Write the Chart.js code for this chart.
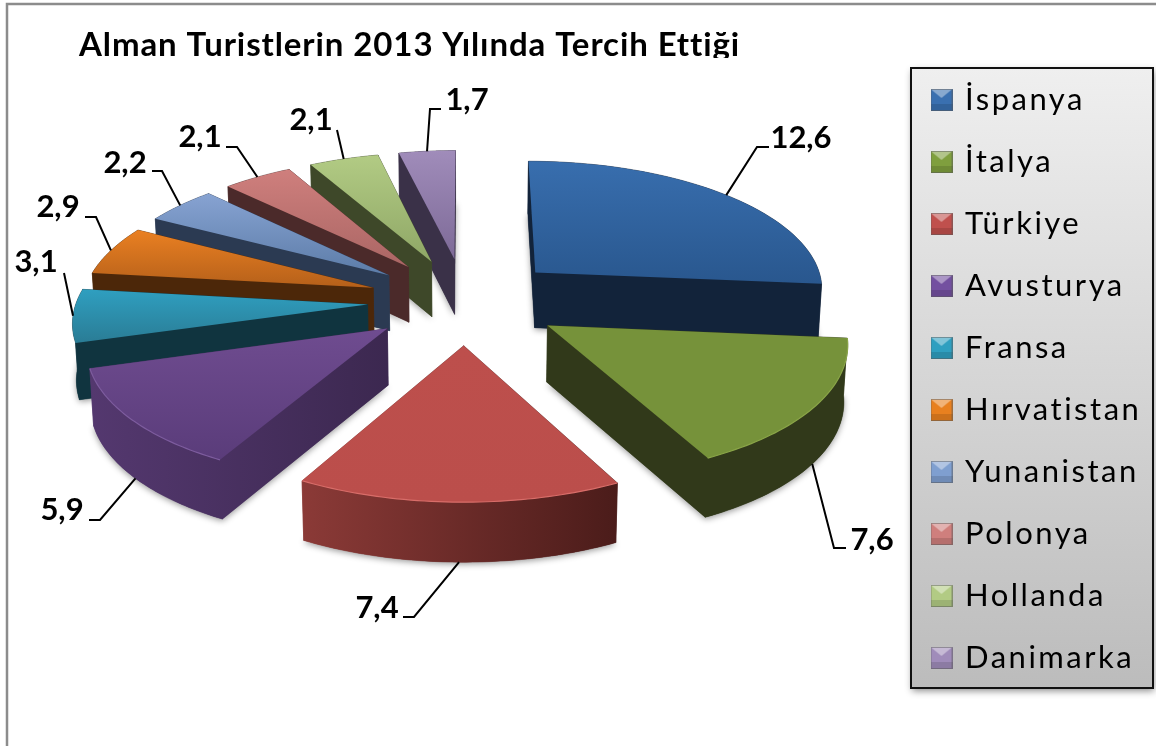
<!DOCTYPE html>
<html><head><meta charset="utf-8">
<style>html,body{margin:0;padding:0;background:#fff}canvas{display:block}</style>
<script src="https://cdn.jsdelivr.net/npm/chart.js@4"></script>
</head><body><canvas id="c" width="1156" height="746"></canvas>
<script>
const titleText = "Alman Turistlerin 2013 Yılında Tercih Ettiği";
const categories = ["İspanya","İtalya","Türkiye","Avusturya","Fransa","Hırvatistan","Yunanistan","Polonya","Hollanda","Danimarka"];
const values = [12.6,7.6,7.4,5.9,3.1,2.9,2.2,2.1,2.1,1.7];
const baseColors = ["#3a70b0","#7f9f3e","#c0504d","#7350a0","#2f9fc0","#e8801f","#7f9fd0","#cf7f7d","#b2cb84","#a08cba"];
const topStart = ["#386eae","#76923a","#bd4f4c","#6f4c90","#2f9fc0","#ea8022","#87a3d2","#cf7f7d","#b2cb84","#a08cba"];
const topEnd   = ["#29578e","#76923a","#bb4e4b","#5a3c7a","#2a7c95","#b5601a","#5c7ca8","#aa6664","#8fa766","#7d6a97"];
const wallLeft  = ["#12233a","#31391a","#8b3a37","#54386f","#10343f","#4c2709","#2b3a52","#4b2a2a","#3e4829","#3a3148"];
const wallRight = ["#12233a","#31391a","#4b1c1a","#3c2850","#10343f","#4c2709","#2b3a52","#4b2a2a","#3e4829","#3a3148"];
const rimLight  = [null,"#8aa548","#d86d69","#7d5c9e",null,null,null,null,null,null];
// leader layout: [elbowX, elbowY, stubX, textX, textY]
const leaderLayout = [
 [757,147,769,801,138],[834,548,846,872,540],[414,617,403,377,608],[100,520,89,62,510],
 [64,273,64,36,262],[96,217,85,58,207],[162,171,152,125,163],[237,147,226,200,137],
 [337,130,337,311,120],[430,109,441,467,100]];

const A=291, B=129, PX=0.11, PY=0.1085, EXPLODE=0.335, DEPTH=56;
function project(cx,cy,U,V,down){
  const sx=1/(1-PX*V), sy=1/(1-PY*V);
  return {x:cx+A*U*sx*(down?0.99:1), y:cy+B*V*sy+(down?DEPTH+3*V:0)};
}
function poly(ctx,pts){ctx.beginPath();pts.forEach((p,i)=>i?ctx.lineTo(p.x,p.y):ctx.moveTo(p.x,p.y));ctx.closePath();}
function sliceGeom(el){
  const a0=el.startAngle+Math.PI/2, a1=el.endAngle+Math.PI/2, m=(a0+a1)/2;
  const ou=EXPLODE*Math.sin(m), ov=-EXPLODE*Math.cos(m);
  const cx=el.x, cy=el.y;
  const rim=[],rimB=[]; const n=48;
  for(let k=0;k<=n;k++){const t=a0+(a1-a0)*k/n,u=ou+Math.sin(t),v=ov-Math.cos(t);
    rim.push(project(cx,cy,u,v,false));rimB.push(project(cx,cy,u,v,true));}
  const apex=project(cx,cy,ou,ov,false), apexB=project(cx,cy,ou,ov,true);
  const mu=ou+Math.sin(m), mv=ov-Math.cos(m);
  return {rim,rimB,apex,apexB,midTop:project(cx,cy,mu,mv,false),midBottom:project(cx,cy,mu,mv,true),front:Math.cos(m)<-0.4};
}
function marker(color){
  const c=document.createElement('canvas');c.width=22;c.height=22;const x=c.getContext('2d');
  x.fillStyle=color;x.fillRect(0,0,22,22);
  x.fillStyle='rgba(255,255,255,.4)';x.beginPath();x.moveTo(0,0);x.lineTo(22,0);x.lineTo(11,9);x.closePath();x.fill();
  x.fillStyle='rgba(0,0,0,.12)';x.fillRect(0,15,22,7);
  x.strokeStyle='rgba(90,90,90,.5)';x.lineWidth=1;x.strokeRect(.5,.5,21,21);
  return c;
}
const markers = baseColors.map(marker);

const pie3d={
  id:'pie3d',
  afterLayout(chart){
    const t=chart.titleBlock; t.left=79; t.right=1000; t.top=26; t.bottom=66;
    if(!t._wrapped){const d=t.draw.bind(t);t.draw=function(){const g=chart.ctx;g.save();g.letterSpacing='0.9px';d();g.restore();};t._wrapped=true;}
    const l=chart.legend; l.left=902.5; l.right=1156; l.top=53.5; l.bottom=746; l.width=253; l.height=692;
    if(!l._wrapped){const d=l.draw.bind(l);l.draw=function(){const g=chart.ctx;g.save();g.letterSpacing='2.5px';d();g.restore();};l._wrapped=true;}
  },
  beforeDraw(chart){
    const g=chart.ctx;g.save();
    g.fillStyle='#fff';g.fillRect(0,0,1156,746);
    g.strokeStyle='#8c8c8c';g.lineWidth=2.5;g.beginPath();g.moveTo(7,746);g.lineTo(7,4);g.lineTo(1156,4);g.stroke();
    g.shadowColor='rgba(0,0,0,.45)';g.shadowBlur=7;g.shadowOffsetX=1;g.shadowOffsetY=3;
    const gr=g.createLinearGradient(0,68,0,688);gr.addColorStop(0,'#efefef');gr.addColorStop(1,'#bcbcbc');
    g.fillStyle=gr;g.fillRect(911,68,242,620);
    g.shadowColor='transparent';g.strokeStyle='#111';g.lineWidth=2;g.strokeRect(911,68,242,620);
    g.restore();
  },
  beforeDatasetsDraw(chart){const g=chart.ctx;g.fillStyle='#fff';g.fillRect(60,58,720,14);},
  beforeDatasetDraw(){return false;},
  afterDatasetsDraw(chart){
    const g=chart.ctx, arcs=chart.getDatasetMeta(0).data;
    const geoms=arcs.map((el,i)=>({i,...sliceGeom(el)}));
    [...geoms].sort((a,b)=>a.apex.y-b.apex.y).forEach(s=>{
      const i=s.i;
      const xs=s.rim.concat([s.apex]).map(p=>p.x), ys=s.rim.concat([s.apex]).map(p=>p.y);
      const minX=Math.min(...xs),maxX=Math.max(...xs),minY=Math.min(...ys),maxY=Math.max(...ys);
      const wg=g.createLinearGradient(minX,0,maxX,0);wg.addColorStop(0,wallLeft[i]);wg.addColorStop(1,wallRight[i]);
      g.save();
      g.shadowColor='rgba(0,0,0,.4)';g.shadowBlur=6;g.shadowOffsetY=2;g.fillStyle=wg;
      poly(g,[s.apexB,...s.rimB]);g.fill();
      g.shadowColor='transparent';
      const last=s.rim.length-1;
      const walls=[
        [s.apex,s.rim[0],s.rimB[0],s.apexB],
        [s.apex,s.rim[last],s.rimB[last],s.apexB],
        [...s.rim,...[...s.rimB].reverse()]];
      walls.map(w=>({w,m:w.reduce((a,p)=>a+p.y,0)/w.length})).sort((a,b)=>a.m-b.m).forEach(o=>{
        g.fillStyle=wg;g.strokeStyle=wg;g.lineWidth=.5;poly(g,o.w);g.fill();g.stroke();});
      const tg=g.createLinearGradient(0,minY,0,maxY);tg.addColorStop(0,topStart[i]);tg.addColorStop(1,topEnd[i]);
      g.fillStyle=tg;poly(g,[s.apex,...s.rim]);g.fill();
      if(rimLight[i]){g.strokeStyle=rimLight[i];g.lineWidth=1.2;g.beginPath();s.rim.forEach((p,k)=>k?g.lineTo(p.x,p.y):g.moveTo(p.x,p.y));g.stroke();}
      g.restore();
    });
    g.save();g.font='bold 31px Lato';g.textAlign='center';g.textBaseline='middle';g.fillStyle='#000';g.strokeStyle='#000';g.lineWidth=2;
    geoms.forEach(s=>{
      const [ex,ey,sx,tx,ty]=leaderLayout[s.i];
      const start=s.front?s.midBottom:s.midTop;
      g.beginPath();g.moveTo(start.x,start.y);g.lineTo(ex,ey);g.lineTo(sx,ey);g.stroke();
      g.fillText(String(values[s.i]).replace('.',','),tx,ty);
    });
    g.restore();
  }
};

new Chart(document.getElementById('c'),{
  type:'pie',
  data:{labels:categories,datasets:[{data:values,backgroundColor:baseColors,borderWidth:0}]},
  options:{
    responsive:false,animation:false,
    layout:{padding:{left:0,right:226,top:0,bottom:184}},
    plugins:{
      tooltip:{enabled:false},
      title:{display:true,text:titleText,align:'start',color:'#000',padding:0,font:{family:'Lato',size:33,weight:'bold',lineHeight:1.2}},
      legend:{position:'chartArea',align:'start',
        labels:{color:'#111',font:{family:'Lato',size:31},padding:31,usePointStyle:true,pointStyleWidth:16,boxHeight:22,
          generateLabels:()=>categories.map((t,i)=>({text:t,pointStyle:markers[i],fillStyle:baseColors[i],strokeStyle:baseColors[i],lineWidth:0,hidden:false,index:i}))}}
    }
  },
  plugins:[pie3d]
});
</script></body></html>
